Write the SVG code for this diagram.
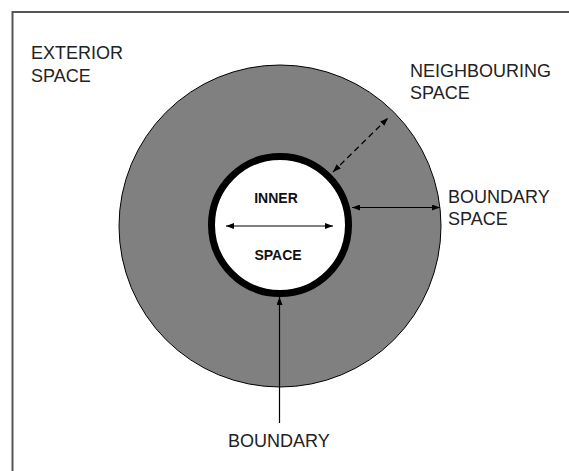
<svg xmlns="http://www.w3.org/2000/svg" width="569" height="471" viewBox="0 0 569 471">
<style>
.lbl{font-family:"Liberation Sans",Arial,sans-serif;font-size:18px;fill:#222}
.in{font-family:"Liberation Sans",Arial,sans-serif;font-size:14px;font-weight:bold;fill:#111;text-anchor:middle}
.conn{stroke:#000;stroke-width:1.2;fill:none}
</style>
<defs>
<marker id="ah" markerUnits="userSpaceOnUse" markerWidth="9" markerHeight="6" refX="8" refY="3" orient="auto-start-reverse">
<path d="M0,0 L8,3 L0,6 z" fill="#000"/>
</marker>
</defs>
<rect width="569" height="471" fill="#fff"/>
<path d="M12.5,471 V12 H569" fill="none" stroke="#555" stroke-width="2"/>
<g id="neighbouring-space">
<circle cx="280" cy="226" r="161" fill="#808080" stroke="#000" stroke-width="1"/>
</g>
<g id="inner-space">
<circle cx="280" cy="225" r="68.5" fill="#fff" stroke="#000" stroke-width="7"/>
<text class="in" x="276" y="203">INNER</text>
<text class="in" x="278" y="260">SPACE</text>
</g>
<g id="connectors">
<line class="conn" x1="226" y1="226" x2="333" y2="226" marker-start="url(#ah)" marker-end="url(#ah)"/>
<line class="conn" x1="352" y1="207.5" x2="440" y2="207.5" marker-start="url(#ah)" marker-end="url(#ah)"/>
<line class="conn" x1="333" y1="172" x2="388" y2="118" stroke-dasharray="6,4" marker-start="url(#ah)" marker-end="url(#ah)"/>
<line class="conn" x1="279.5" y1="423" x2="279.5" y2="297" marker-end="url(#ah)"/>
</g>
<g id="exterior-space">
<text class="lbl" x="31" y="59">EXTERIOR</text>
<text class="lbl" x="31" y="82">SPACE</text>
</g>
<g id="neighbouring-label">
<text class="lbl" x="410" y="77">NEIGHBOURING</text>
<text class="lbl" x="410" y="99">SPACE</text>
</g>
<g id="boundary-space">
<text class="lbl" x="448" y="203">BOUNDARY</text>
<text class="lbl" x="448" y="225">SPACE</text>
</g>
<g id="boundary">
<text class="lbl" x="228" y="447">BOUNDARY</text>
</g>
</svg>
